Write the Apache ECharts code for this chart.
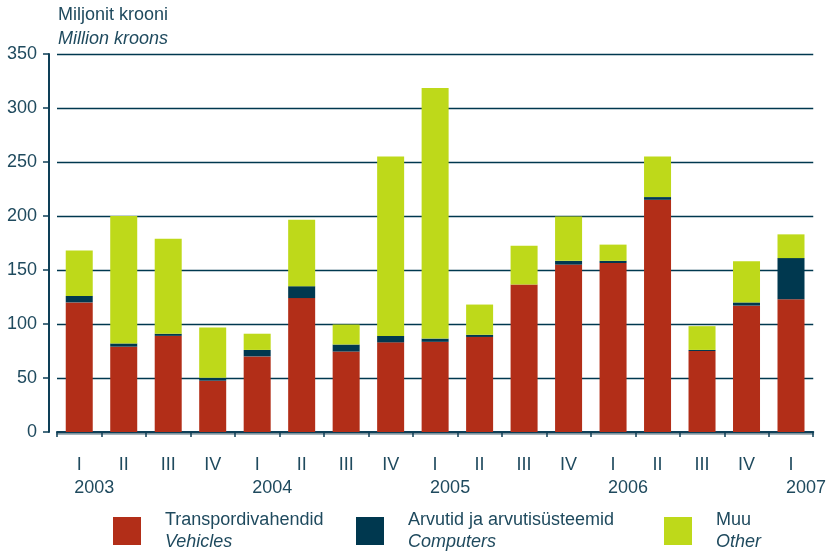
<!DOCTYPE html>
<html>
<head>
<meta charset="utf-8">
<script src="https://cdn.jsdelivr.net/npm/echarts@6/dist/echarts.min.js"></script>
<style>
    html, body { margin: 0; padding: 0; background: #fff; }
    #chart { width: 829px; height: 554px; }
</style>
</head>
<body>
<div id="chart"></div>
<script>
var quarters = ['I', 'II', 'III', 'IV', 'I', 'II', 'III', 'IV', 'I', 'II', 'III', 'IV', 'I', 'II', 'III', 'IV', 'I'];
var years = ['2003', '', '', '', '2004', '', '', '', '2005', '', '', '', '2006', '', '', '', '2007'];
var vehicles = [120, 79, 89, 47.5, 70, 124, 74.5, 83, 83.5, 88, 136.5, 155, 156.5, 215, 75, 117, 123];
var computers = [6, 3, 2, 2.8, 6, 11, 6.5, 6, 3, 2, 0, 3.5, 2, 2.5, 1, 3, 38];
var other = [42, 118, 88, 46.5, 15, 61.5, 18.5, 166, 232, 28, 36, 41, 15, 37.5, 22, 38, 22];
var yTicks = [0, 50, 100, 150, 200, 250, 300, 350];

var names = ['Transpordivahendid', 'Arvutid ja arvutisüsteemid', 'Muu'];
var namesEn = ['Vehicles', 'Computers', 'Other'];

var textColor = '#1f4a5e';
var navy = '#00384f';
var fontFamily = 'Liberation Sans, Arial, sans-serif';

var categories = quarters.map(function (q, i) {
    return q + '|' + years[i];
});

function makeLegend(i, left) {
    return {
        left: left,
        top: 510,
        padding: 0,
        itemWidth: 28,
        itemHeight: 28,
        selectedMode: false,
        data: [{ name: names[i], icon: 'rect' }],
        formatter: function (name) {
            return name + '\n{en|' + namesEn[names.indexOf(name)] + '}';
        },
        textStyle: {
            color: textColor,
            fontFamily: fontFamily,
            fontSize: 18,
            lineHeight: 21,
            padding: [0, 0, 0, 19],
            rich: {
                en: {
                    fontStyle: 'italic',
                    fontSize: 18,
                    lineHeight: 21,
                    color: textColor,
                    fontFamily: fontFamily
                }
            }
        }
    };
}

var myChart = echarts.init(document.getElementById('chart'));
var option = {
    backgroundColor: '#ffffff',
    animation: false,
    color: ['#b22e18', navy, '#bed91a'],
    title: {
        text: 'Miljonit krooni',
        subtext: 'Million kroons',
        left: 58,
        top: 6,
        padding: 0,
        itemGap: 6,
        textStyle: {
            color: textColor,
            fontFamily: fontFamily,
            fontSize: 18,
            fontWeight: 'normal'
        },
        subtextStyle: {
            color: textColor,
            fontFamily: fontFamily,
            fontSize: 18,
            fontStyle: 'italic'
        }
    },
    legend: [makeLegend(0, 113), makeLegend(1, 356), makeLegend(2, 664)],
    grid: {
        left: 57,
        right: 15,
        top: 54,
        bottom: 122,
        containLabel: false
    },
    xAxis: {
        type: 'category',
        data: categories,
        offset: 10,
        axisLine: {
            lineStyle: {
                color: '#0e3f57',
                width: 2,
                shadowColor: 'rgba(0, 40, 60, 0.35)',
                shadowOffsetY: 2,
                shadowBlur: 0
            }
        },
        axisTick: {
            show: true,
            length: 5,
            interval: 0,
            lineStyle: { color: '#0e3f57', width: 1.5 }
        },
        axisLabel: {
            interval: 0,
            margin: 12,
            color: textColor,
            fontFamily: fontFamily,
            fontSize: 18,
            lineHeight: 23,
            formatter: function (value) {
                var parts = value.split('|');
                if (parts[1]) {
                    return '{q|' + parts[0] + '}\n{y|' + parts[1] + '}';
                }
                return '{q|' + parts[0] + '}';
            },
            rich: {
                q: { fontSize: 18, color: textColor, fontFamily: fontFamily, lineHeight: 23 },
                y: { fontSize: 18, color: textColor, fontFamily: fontFamily, lineHeight: 23, padding: [0, 0, 0, 30] }
            }
        }
    },
    yAxis: {
        type: 'value',
        min: yTicks[0],
        max: yTicks[yTicks.length - 1],
        interval: 50,
        offset: 8,
        axisLine: {
            show: true,
            lineStyle: { color: '#0e3f57', width: 2 }
        },
        axisTick: {
            show: true,
            length: 6,
            lineStyle: { color: '#0e3f57', width: 1.5 }
        },
        axisLabel: {
            margin: 12,
            color: textColor,
            fontFamily: fontFamily,
            fontSize: 18
        },
        splitLine: {
            show: true,
            lineStyle: { color: navy, width: 1.3 }
        }
    },
    series: [
        {
            name: names[0],
            type: 'bar',
            stack: 'total',
            barWidth: 27,
            data: vehicles
        },
        {
            name: names[1],
            type: 'bar',
            stack: 'total',
            barWidth: 27,
            data: computers
        },
        {
            name: names[2],
            type: 'bar',
            stack: 'total',
            barWidth: 27,
            data: other
        }
    ]
};
myChart.setOption(option);
</script>
</body>
</html>
